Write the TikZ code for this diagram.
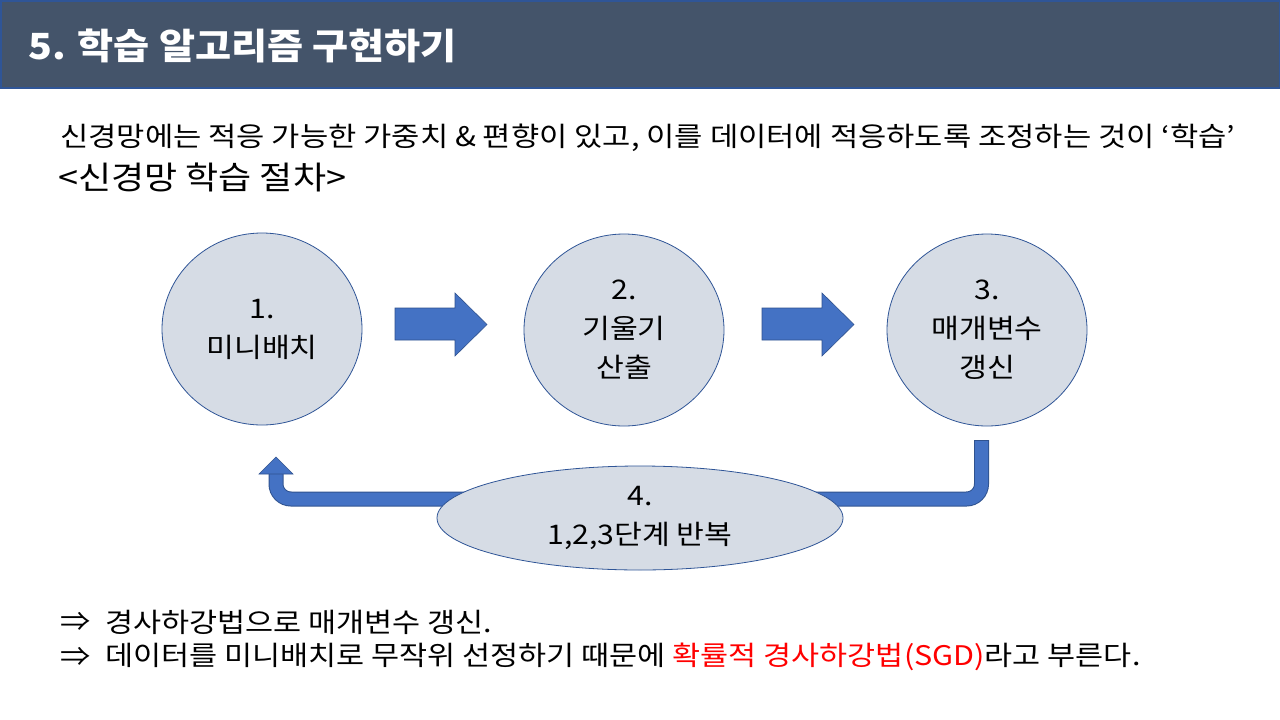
\documentclass[tikz,border=0pt]{standalone}
\usepackage{fontspec}
\usepackage{graphicx}
\setmainfont{Noto Sans CJK KR}
\usetikzlibrary{shapes.geometric}
\definecolor{titlebg}{HTML}{44546A}
\definecolor{titleborder}{HTML}{2F5597}
\definecolor{nodefill}{HTML}{D6DCE5}
\definecolor{nodeborder}{HTML}{2F5597}
\definecolor{arrowfill}{HTML}{4472C4}
\definecolor{arrowborder}{HTML}{2F528F}
\definecolor{sgdred}{HTML}{FF0000}
\newcommand{\hs}[2][1.12]{\scalebox{#1}[1]{#2}}
\begin{document}
\begin{tikzpicture}[x=1pt,y=-1pt,
  stepnode/.style={ellipse, draw=nodeborder, line width=0.8pt, fill=nodefill,
    minimum width=200pt, minimum height=192pt, inner sep=0pt, align=center,
    font=\fontsize{27}{39}\selectfont},
  loopnode/.style={ellipse, draw=nodeborder, line width=0.8pt, fill=nodefill,
    minimum width=406pt, minimum height=104pt, inner sep=0pt, align=center,
    font=\fontsize{27}{39}\selectfont},
  blockarrow/.style={fill=arrowfill, draw=arrowborder, line width=0.6pt},
  bodytext/.style={anchor=west, inner sep=0pt, font=\fontsize{27}{30}\selectfont}
]
\useasboundingbox (0,0) rectangle (1280,720);
\fill[white] (0,0) rectangle (1280,720);
% title bar
\draw[fill=titlebg, draw=titleborder, line width=1.5pt] (0.75,0.75) rectangle (1279.25,88);
\node[anchor=west, inner sep=0pt, text=white, font=\fontsize{36}{40}\selectfont\bfseries] (title) at (28,46) {\hs[1.09]{5. 학습 알고리즘 구현하기}};
% intro text
\node[anchor=west, inner sep=0pt, font=\fontsize{27}{30}\selectfont] (intro) at (60,138) {\hs[1.138]{신경망에는 적응 가능한 가중치 \& 편향이 있고, 이를 데이터에 적응하도록 조정하는 것이 ‘학습’}};
\node[anchor=west, inner sep=0pt, font=\fontsize{32}{36}\selectfont] (proc) at (58,177) {\hs[1.125]{<신경망 학습 절차>}};
% U-turn loop arrow (behind the ellipse)
\draw[arrowborder, line width=15pt, rounded corners=15pt] (981.5,440) -- (981.5,499) -- (276,499) -- (276,473.5);
\draw[arrowfill, line width=13pt, rounded corners=15pt] (981.5,441) -- (981.5,499) -- (276,499) -- (276,472.5);
\draw[blockarrow] (259,474) -- (276,457) -- (293,474) -- cycle;
% step nodes
\node[stepnode] (s1) at (262,329) {\hs{1.}\\\hs{미니배치}};
\node[stepnode] (s2) at (624,330) {\hs{2.}\\\hs{기울기}\\\hs{산출}};
\node[stepnode] (s3) at (987,330) {\hs{3.}\\\hs{매개변수}\\\hs{갱신}};
\node[loopnode] (s4) at (640,518) {\hs{4.}\\\hs{1,2,3단계 반복}};
% block arrows
\draw[blockarrow] (395,308) -- (455,308) -- (455,293) -- (487,324.5) -- (455,356) -- (455,340) -- (395,340) -- cycle;
\draw[blockarrow] (762,308) -- (822,308) -- (822,293) -- (854,324.5) -- (822,356) -- (822,340) -- (762,340) -- cycle;
% bottom text
\node[bodytext] (i1) at (60,622) {\hs{⇒}};
\node[bodytext] (t1) at (105,622) {\hs[1.13]{경사하강법으로 매개변수 갱신.}};
\node[bodytext] (i2) at (60,657) {\hs{⇒}};
\node[bodytext] (t2) at (105,657) {\hs[1.13]{데이터를 미니배치로 무작위 선정하기 때문에 \textcolor{sgdred}{확률적 경사하강법(SGD)}라고 부른다.}};
\end{tikzpicture}
\end{document}
